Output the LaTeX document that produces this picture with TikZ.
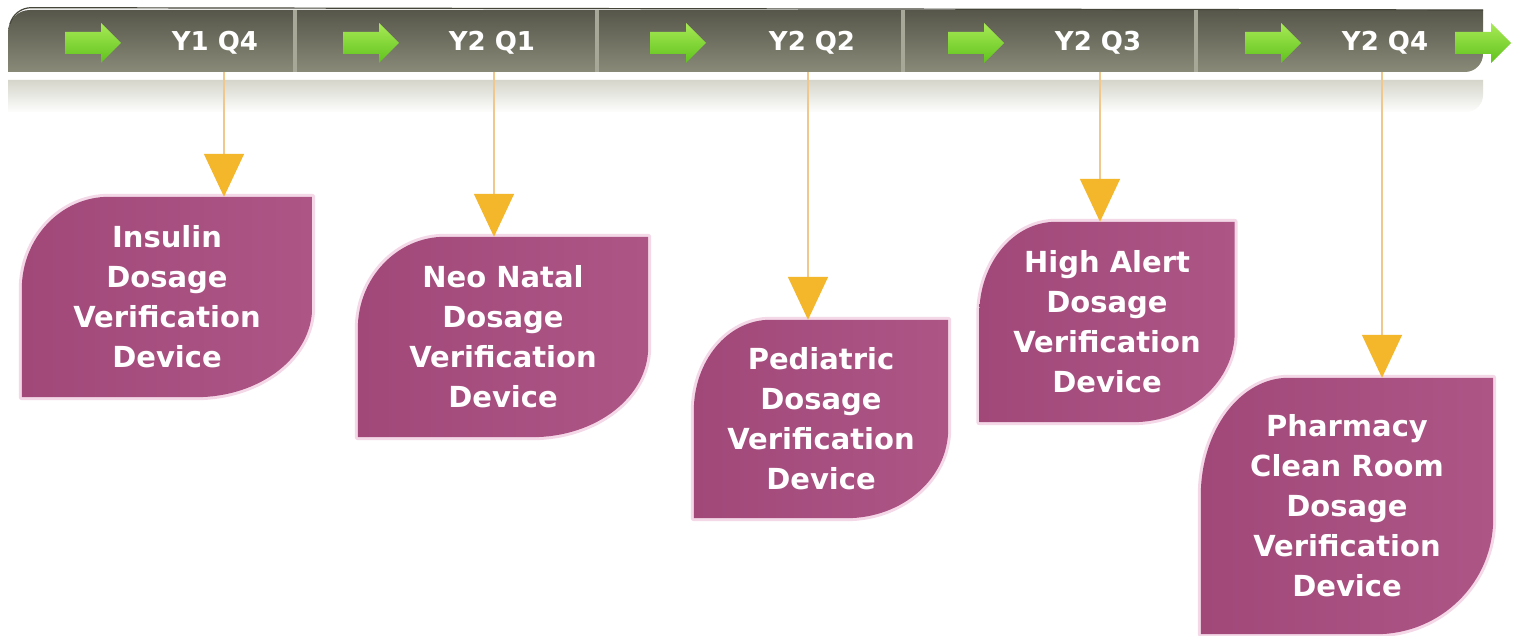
\documentclass[tikz,border=0pt]{standalone}
\usepackage{fontspec}
\newfontfamily\dvsans{DejaVu Sans}
\usetikzlibrary{calc,arrows.meta}

\definecolor{barTop}{HTML}{56564A}
\definecolor{barBot}{HTML}{8A8A79}
\definecolor{barEdge}{HTML}{45453A}
\definecolor{sepCol}{HTML}{A8A898}
\definecolor{stripTop}{HTML}{D5D5CB}
\definecolor{greenTop}{HTML}{A8EA55}
\definecolor{greenBot}{HTML}{5FC21C}
\definecolor{leafLeft}{HTML}{A14879}
\definecolor{leafRight}{HTML}{AD5686}
\definecolor{leafGlow}{HTML}{F4D8E8}
\definecolor{connCol}{HTML}{F0C88E}
\definecolor{tipCol}{HTML}{F4B72C}

\pgfdeclarelayer{canvas}
\pgfdeclarelayer{leaves}
\pgfsetlayers{canvas,leaves,main}

% leaf outline: rounded top-left and bottom-right corners of a node
\newcommand\leafshape[1]{%
  let \p1=(#1.south west), \p2=(#1.north east),
      \n1={0.30*(\x2-\x1)}, \n2={0.46*(\y2-\y1)},
      \n3={0.40*(\x2-\x1)}, \n4={0.45*(\y2-\y1)} in
  (\x1,\y1) -- (\x1,\y2-\n2)
  arc[start angle=180,end angle=90,x radius=\n1,y radius=\n2]
  -- (\x2,\y2) -- (\x2,\y1+\n4)
  arc[start angle=0,end angle=-90,x radius=\n3,y radius=\n4] -- cycle}

\tikzset{
  qlabel/.style={text=white, font=\dvsans\bfseries\fontsize{26}{30}\selectfont, inner sep=0},
  leafbox/.style={inner sep=0, align=center, text=white,
    font=\dvsans\bfseries\fontsize{29}{40}\selectfont},
  conn/.style={draw=connCol, line width=1.6pt,
    -{Triangle[width=40pt,length=43pt,color=tipCol]}},
  greenarrow/.style={top color=greenTop, bottom color=greenBot},
}

\begin{document}
\begin{tikzpicture}[x=1pt,y=1pt]
\useasboundingbox (0,0) rectangle (1515,636);
\begin{pgfonlayer}{canvas}
  \fill[white] (0,0) rectangle (1515,636);
\end{pgfonlayer}

% reflection under the timeline bar
\shade[top color=stripTop, bottom color=white!96!stripTop]
  (8,556) -- (1483,556) -- (1483,541)
  arc[start angle=0,end angle=-90,radius=17] -- (8,524) -- cycle;

% timeline bar
\shade[top color=barTop, bottom color=barBot]
  (8,564) -- (8,604) arc[start angle=180,end angle=90,radius=22]
  -- (1483,626) -- (1483,582) arc[start angle=0,end angle=-90,radius=18] -- cycle;
\draw[barEdge, line width=1.2pt] (10,612) arc[start angle=165,end angle=90,radius=22] -- (1483,626);

% quarter separators
\foreach \x in {295,597,903,1196}
  \fill[sepCol] (\x-2,564) rectangle (\x+2,626);

% green arrows along the bar
\foreach \x in {65,343,650,948,1245,1455}
  \shade[greenarrow] (\x,582) -- (\x+36,582) -- (\x+36,573) -- (\x+56,593)
    -- (\x+36,613) -- (\x+36,604) -- (\x,604) -- cycle;

% quarter labels
\node[qlabel] (q1) at (215,593) {Y1 Q4};
\node[qlabel] (q2) at (492,593) {Y2 Q1};
\node[qlabel] (q3) at (812,593) {Y2 Q2};
\node[qlabel] (q4) at (1098,593) {Y2 Q3};
\node[qlabel] (q5) at (1385,593) {Y2 Q4};

% connector start points on the bar
\coordinate (c1) at (224,564);
\coordinate (c2) at (494,564);
\coordinate (c3) at (808,564);
\coordinate (c4) at (1100,564);
\coordinate (c5) at (1382,564);

% milestone boxes
\node[leafbox, minimum width=290, minimum height=200] (b1) at (167,339)
  {Insulin\\Dosage\\Verification\\Device};
\node[leafbox, minimum width=290, minimum height=200] (b2) at (503,299)
  {Neo Natal\\Dosage\\Verification\\Device};
\node[leafbox, minimum width=254, minimum height=198] (b3) at (821,217)
  {Pediatric\\Dosage\\Verification\\Device};
\node[leafbox, minimum width=255, minimum height=200] (b4) at (1107,314)
  {High Alert\\Dosage\\Verification\\Device};
\node[leafbox, minimum width=292, minimum height=256] (b5) at (1347,130)
  {Pharmacy\\Clean Room\\Dosage\\Verification\\Device};

\begin{pgfonlayer}{leaves}
  \foreach \b in {b1,b2,b3,b4,b5} {
    \draw[leafGlow, line width=6pt, line join=round] \leafshape{\b};
    \shade[left color=leafLeft, right color=leafRight] \leafshape{\b};
  }
\end{pgfonlayer}

% connectors from the bar to the boxes
\foreach \c/\b in {c1/b1,c2/b2,c3/b3,c4/b4,c5/b5}
  \draw[conn] (\c) -- (\c |- \b.north);
\end{tikzpicture}
\end{document}
